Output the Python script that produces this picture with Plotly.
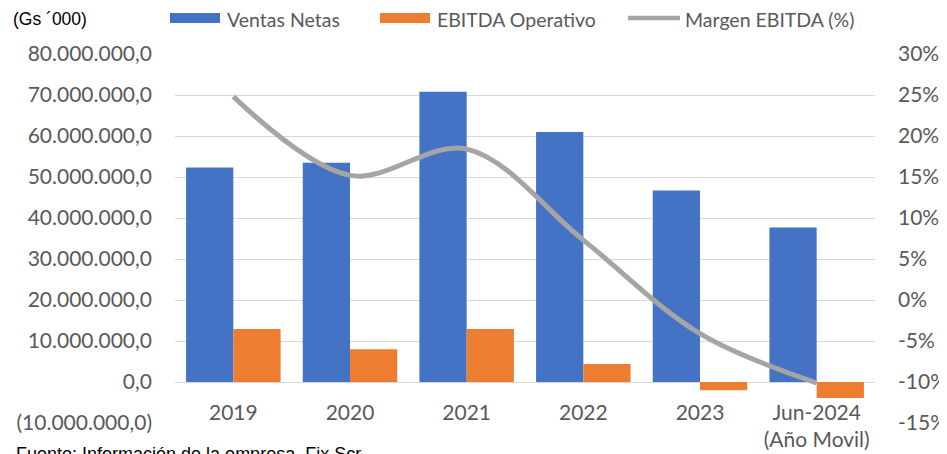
import plotly.graph_objects as go

categories = ["2019", "2020", "2021", "2022", "2023", "Jun-2024<br>(Año Movil)"]
ventas_netas = [52300000, 53500000, 70800000, 61000000, 46700000, 37700000]
ebitda_operativo = [12900000, 8000000, 12900000, 4400000, -2000000, -3900000]
margen_ebitda = [24.8, 15.2, 18.4, 7.3, -4.1, -10.1]

left_tickvals = [-10000000, 0, 10000000, 20000000, 30000000, 40000000, 50000000, 60000000, 70000000, 80000000]
left_ticktext = ["(10.000.000,0)", "0,0", "10.000.000,0", "20.000.000,0", "30.000.000,0",
                 "40.000.000,0", "50.000.000,0", "60.000.000,0", "70.000.000,0", "80.000.000,0"]
right_tickvals = [-15, -10, -5, 0, 5, 10, 15, 20, 25, 30]
right_ticktext = ["-15%", "-10%", "-5%", "0%", "5%", "10%", "15%", "20%", "25%", "30%"]

legend_names = ["Ventas Netas", "EBITDA Operativo", "Margen EBITDA (%)"]
colors = ["#4472C4", "#ED7D31", "#A5A5A5"]

FONT = "Lato, Open Sans, sans-serif"
GRAY = "#595959"
OFF = 8  # page body margin
W, H = 947 - OFF, 454 - OFF
# plot area in page pixels: x 175..875, y 54..423
L = 175 - OFF
T = 54 - OFF
R = W - (875 - OFF)
B = H - (423 - OFF)
pw = W - L - R
ph = H - T - B


def px(x):
    return (x - OFF - L) / pw


def py(y):
    return (H - B - (y - OFF)) / ph


fig = go.Figure()
fig.add_trace(go.Bar(x=categories, y=ventas_netas, name=legend_names[0],
                     marker=dict(color=colors[0], line=dict(width=0))))
fig.add_trace(go.Bar(x=categories, y=ebitda_operativo, name=legend_names[1],
                     marker=dict(color=colors[1], line=dict(width=0))))
fig.add_trace(go.Scatter(x=categories, y=margen_ebitda, name=legend_names[2], yaxis="y2",
                         mode="lines", line=dict(color=colors[2], width=5, shape="spline", smoothing=1)))

shapes = [
    dict(type="rect", xref="paper", yref="paper", x0=px(170), x1=px(220), y0=py(23), y1=py(13),
         fillcolor=colors[0], line=dict(width=0)),
    dict(type="rect", xref="paper", yref="paper", x0=px(380), x1=px(430), y0=py(23), y1=py(13),
         fillcolor=colors[1], line=dict(width=0)),
    dict(type="line", xref="paper", yref="paper", x0=px(628), x1=px(680), y0=py(18), y1=py(18),
         line=dict(color=colors[2], width=4.5)),
]
annotations = [
    dict(text=legend_names[0], x=px(225), y=py(19), xanchor="left", yanchor="middle"),
    dict(text=legend_names[1], x=px(435), y=py(19), xanchor="left", yanchor="middle"),
    dict(text=legend_names[2], x=px(683), y=py(19), xanchor="left", yanchor="middle"),
]
for a in annotations:
    a.update(xref="paper", yref="paper", showarrow=False, font=dict(size=19.5, color=GRAY, family=FONT))
annotations += [
    dict(text="(Gs ´000)", x=px(11), y=py(19), xref="paper", yref="paper", xanchor="left",
         yanchor="middle", showarrow=False, font=dict(family="Liberation Sans, Arial", size=17.5, color="black")),
    dict(text="Fuente: Información de la empresa, Fix Scr", x=px(14), y=py(442), xref="paper", yref="paper",
         xanchor="left", yanchor="top", showarrow=False,
         font=dict(family="Liberation Sans, Arial", size=18, color="black")),
]

fig.update_layout(
    width=W, height=H,
    margin=dict(l=L, r=R, t=T, b=B, autoexpand=False),
    paper_bgcolor="white", plot_bgcolor="white",
    barmode="group", bargap=0.19, bargroupgap=0,
    font=dict(family=FONT, color=GRAY, size=17),
    showlegend=False,
    xaxis=dict(showgrid=False, showline=False, ticks="", tickfont=dict(size=21, color=GRAY),
               anchor="free", position=1 / 9, ticklabelstandoff=16, automargin=False),
    yaxis=dict(range=[-10000000, 80000000], tickvals=left_tickvals, ticktext=left_ticktext,
               showgrid=True, gridcolor="#D9D9D9", gridwidth=1.3, zeroline=False, showline=False,
               tickfont=dict(size=21, color=GRAY), ticklabelstandoff=22, automargin=False),
    yaxis2=dict(range=[-15, 30], tickvals=right_tickvals, ticktext=right_ticktext,
                overlaying="y", side="right", showgrid=False, zeroline=False, showline=False,
                tickfont=dict(size=21, color=GRAY), ticklabelstandoff=22, automargin=False),
    shapes=shapes,
    annotations=annotations,
)

fig.write_html("out.html")
